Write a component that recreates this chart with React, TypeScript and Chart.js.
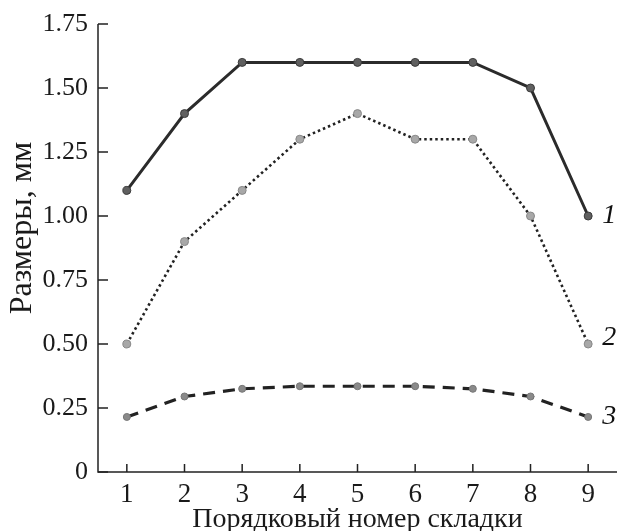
import React, { useEffect, useRef } from "react";
import { Chart, registerables } from "chart.js";

Chart.register(...registerables);

const categories = ["1", "2", "3", "4", "5", "6", "7", "8", "9"];
const series1 = [1.1, 1.4, 1.6, 1.6, 1.6, 1.6, 1.6, 1.5, 1.0];
const series2 = [0.5, 0.9, 1.1, 1.3, 1.4, 1.3, 1.3, 1.0, 0.5];
const series3 = [0.215, 0.295, 0.325, 0.335, 0.335, 0.335, 0.325, 0.295, 0.215];
const seriesNames = ["1", "2", "3"];
const yTicks = [0, 0.25, 0.5, 0.75, 1.0, 1.25, 1.5, 1.75];
const xTitle = "Порядковый номер складки";
const yTitle = "Размеры, мм";

const FONT = "'Liberation Serif', 'DejaVu Serif', serif";

const axisPlugin = {
  id: "inwardTicks",
  afterDatasetsDraw(chart: any) {
    const ctx = chart.ctx;
    const area = chart.chartArea;
    const xs = chart.scales.x;
    const ys = chart.scales.y;
    ctx.save();
    ctx.strokeStyle = "#222";
    ctx.lineWidth = 1.5;
    ctx.beginPath();
    ctx.moveTo(area.left, area.top);
    ctx.lineTo(area.left, area.bottom);
    ctx.lineTo(area.right, area.bottom);
    ctx.stroke();
    ctx.beginPath();
    xs.ticks.forEach((_t: any, i: number) => {
      const x = xs.getPixelForTick(i);
      ctx.moveTo(x, area.bottom);
      ctx.lineTo(x, area.bottom - 8);
    });
    ys.ticks.forEach((_t: any, i: number) => {
      const y = ys.getPixelForTick(i);
      ctx.moveTo(area.left, y);
      ctx.lineTo(area.left + 10, y);
    });
    ctx.stroke();

    // axis titles
    ctx.fillStyle = "#1a1a1a";
    ctx.font = `28px ${FONT}`;
    ctx.textAlign = "center";
    ctx.textBaseline = "alphabetic";
    ctx.fillText(xTitle, (area.left + area.right) / 2, area.bottom + 55);
    ctx.save();
    ctx.font = `32px ${FONT}`;
    ctx.translate(area.left - 67, (area.top + area.bottom) / 2 - 20);
    ctx.rotate(-Math.PI / 2);
    ctx.fillText(yTitle, 0, 0);
    ctx.restore();

    // series labels at end of each line
    ctx.fillStyle = "#111";
    ctx.font = `italic 28px ${FONT}`;
    ctx.textAlign = "left";
    ctx.textBaseline = "middle";
    const dy = [0, -6, 0];
    chart.data.datasets.forEach((_d: any, i: number) => {
      const meta = chart.getDatasetMeta(i);
      const pt = meta.data[meta.data.length - 1];
      ctx.fillText(seriesNames[i], pt.x + 14, pt.y + dy[i]);
    });
    ctx.restore();
  },
};

export default function App() {
  const ref = useRef<HTMLCanvasElement>(null);
  useEffect(() => {
    if (!ref.current) return;
    const chart = new Chart(ref.current, {
      type: "line",
      data: {
        labels: categories,
        datasets: [
          {
            label: seriesNames[0],
            data: series1,
            borderColor: "#2b2b2b",
            borderWidth: 3,
            pointRadius: 4,
            pointBackgroundColor: "#606060",
            pointBorderColor: "#3a3a3a",
            pointBorderWidth: 1,
          },
          {
            label: seriesNames[1],
            data: series2,
            borderColor: "#222",
            borderWidth: 2.6,
            borderDash: [2.5, 3],
            pointRadius: 4,
            pointBackgroundColor: "#a8a8a8",
            pointBorderColor: "#888",
            pointBorderWidth: 1,
          },
          {
            label: seriesNames[2],
            data: series3,
            borderColor: "#222",
            borderWidth: 3.2,
            borderDash: [12, 8],
            pointRadius: 3.5,
            pointBackgroundColor: "#8a8a8a",
            pointBorderColor: "#777",
            pointBorderWidth: 1,
          },
        ],
      },
      options: {
        animation: false,
        responsive: false,
        layout: { padding: { top: 24, right: 0, left: 0, bottom: 0 } },
        plugins: { legend: { display: false }, tooltip: { enabled: false } },
        scales: {
          x: {
            type: "category",
            offset: true,
            grid: { display: false },
            border: { display: false },
            ticks: {
              color: "#1a1a1a",
              font: { family: FONT, size: 27 },
              padding: -1,
              maxRotation: 0,
            },
            afterFit(scale: any) {
              scale.height = 59;
            },
          },
          y: {
            min: 0,
            max: 1.75,
            grid: { display: false },
            border: { display: false },
            afterBuildTicks(scale: any) {
              scale.ticks = yTicks.map((v) => ({ value: v }));
            },
            ticks: {
              color: "#1a1a1a",
              font: { family: FONT, size: 26 },
              padding: 2,
              callback: (v: any) => (Number(v) === 0 ? "0" : Number(v).toFixed(2)),
            },
            afterFit(scale: any) {
              scale.width = 98;
            },
          },
        },
      },
      plugins: [axisPlugin],
    });
    return () => chart.destroy();
  }, []);
  return (
    <div style={{ position: "fixed", left: 0, top: 0, width: 622, height: 531, background: "#fff" }}>
      <canvas ref={ref} width={622} height={531} style={{ width: 622, height: 531 }} />
    </div>
  );
}
